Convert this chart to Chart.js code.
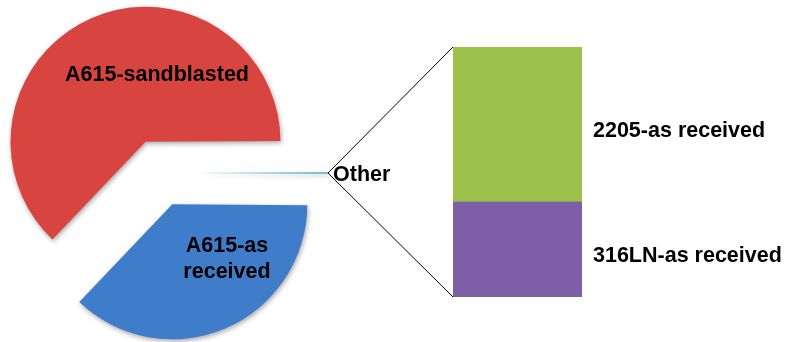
<!DOCTYPE html>
<html>
<head>
<meta charset="utf-8">
<script src="https://cdn.jsdelivr.net/npm/chart.js@4"></script>
<style>
  html, body { margin: 0; padding: 0; background: #fff; overflow: hidden; }
  #wrap { position: relative; width: 788px; height: 342px; }
  #pieBox { position: absolute; left: 0; top: 0; width: 400px; height: 342px; }
  #barBox { position: absolute; left: 300px; top: 0; width: 488px; height: 342px; }
</style>
</head>
<body>
<div id="wrap">
  <div id="pieBox"><canvas id="pieChart"></canvas></div>
  <div id="barBox"><canvas id="barChart"></canvas></div>
</div>
<script>
// pie part (percent of total)
const pieLabels = ['A615-as received', 'A615-sandblasted', 'Other'];
const pieColors = ['#3F7DCA', '#D8443F', '#4BACC6'];
// the "Other" slice is split out into the bar
const barLabels = ['316LN-as received', '2205-as received'];
const barValues = [0.076, 0.124];
const barColors = ['#7E5FA7', '#9CC24B'];
const pieValues = [37.0, 62.8, barValues[0] + barValues[1]];

const labelFont = 'bold 21.5px "Liberation Sans", Arial, sans-serif';
const explode = 34; // slice shift in px

// keep the "Other" slice centred on 3 o'clock
const pieTotal = pieValues.reduce((a, b) => a + b, 0);
const startRot = 90 + pieValues[2] / pieTotal * 180;

function setShadow(c) {
  c.shadowColor = 'rgba(0,0,0,0.35)';
  c.shadowBlur = 5;
  c.shadowOffsetX = 1;
  c.shadowOffsetY = 2;
}

// draw the arcs ourselves so every slice moves out by the same amount
const explodePlugin = {
  id: 'explode',
  beforeDatasetsDraw(chart) {
    const c = chart.ctx;
    chart.getDatasetMeta(0).data.forEach(arc => {
      const mid = (arc.startAngle + arc.endAngle) / 2;
      c.save();
      setShadow(c);
      c.translate(Math.cos(mid) * explode, Math.sin(mid) * explode);
      arc.draw(c, chart.chartArea);
      c.restore();
    });
    return false;
  }
};

// labels for the pie slices
const pieLabelPlugin = {
  id: 'pieLabels',
  afterDraw(chart) {
    const c = chart.ctx;
    c.save();
    c.font = labelFont;
    c.fillStyle = '#000';
    c.textBaseline = 'alphabetic';
    c.textAlign = 'center';
    c.fillText('A615-sandblasted', 157, 81);
    c.fillText('A615-as', 227, 252);
    c.fillText('received', 227, 278);
    c.textAlign = 'left';
    c.fillText(pieLabels[2], 333, 181);
    c.restore();
  }
};

const pieChart = new Chart(document.getElementById('pieChart'), {
  type: 'pie',
  data: {
    labels: pieLabels,
    datasets: [{
      data: pieValues,
      backgroundColor: pieColors,
      borderWidth: 0
    }]
  },
  options: {
    responsive: true,
    maintainAspectRatio: false,
    animation: false,
    rotation: startRot,
    radius: 135,
    layout: { padding: { left: 0, right: 82, top: 4, bottom: 0 } },
    plugins: {
      legend: { display: false },
      tooltip: { enabled: false }
    }
  },
  plugins: [explodePlugin, pieLabelPlugin]
});

// soft drop shadow for the bar
const shadowPlugin = {
  id: 'shadow',
  beforeDatasetsDraw(chart) {
    chart.ctx.save();
    setShadow(chart.ctx);
  },
  afterDatasetsDraw(chart) {
    chart.ctx.restore();
  }
};

// connector lines from "Other" slice to the bar + bar labels
const barExtrasPlugin = {
  id: 'barExtras',
  afterDraw(chart) {
    const c = chart.ctx;
    const arc = pieChart.getDatasetMeta(0).data[2];
    const mid = (arc.startAngle + arc.endAngle) / 2;
    const reach = arc.outerRadius + explode;
    const boxLeft = 300;
    const tipX = arc.x + Math.cos(mid) * reach - boxLeft;
    const tipY = arc.y + Math.sin(mid) * reach;

    const bottom = chart.getDatasetMeta(0).data[0];
    const top = chart.getDatasetMeta(1).data[0];
    const left = top.x - top.width / 2;

    c.save();
    c.strokeStyle = '#000';
    c.lineWidth = 1;
    c.beginPath();
    c.moveTo(tipX, tipY);
    c.lineTo(left, top.y);
    c.moveTo(tipX, tipY);
    c.lineTo(left, bottom.base);
    c.stroke();

    c.font = labelFont;
    c.fillStyle = '#000';
    c.textAlign = 'left';
    c.textBaseline = 'alphabetic';
    [bottom, top].forEach((el, i) => {
      const x = el.x + el.width / 2 + 11;
      const y = (el.y + el.base) / 2 + 12;
      c.fillText(barLabels[i], x, y);
    });
    c.restore();
  }
};

new Chart(document.getElementById('barChart'), {
  type: 'bar',
  data: {
    labels: [''],
    datasets: barLabels.map((lab, i) => ({
      label: lab,
      data: [barValues[i]],
      backgroundColor: barColors[i],
      borderWidth: 0,
      barPercentage: 1,
      categoryPercentage: 1
    }))
  },
  options: {
    responsive: true,
    maintainAspectRatio: false,
    animation: false,
    layout: { padding: { left: 153, right: 206, top: 47, bottom: 45 } },
    scales: {
      x: { stacked: true, display: false },
      y: { stacked: true, display: false, min: 0, max: barValues[0] + barValues[1] }
    },
    plugins: {
      legend: { display: false },
      tooltip: { enabled: false }
    }
  },
  plugins: [shadowPlugin, barExtrasPlugin]
});
</script>
</body>
</html>
